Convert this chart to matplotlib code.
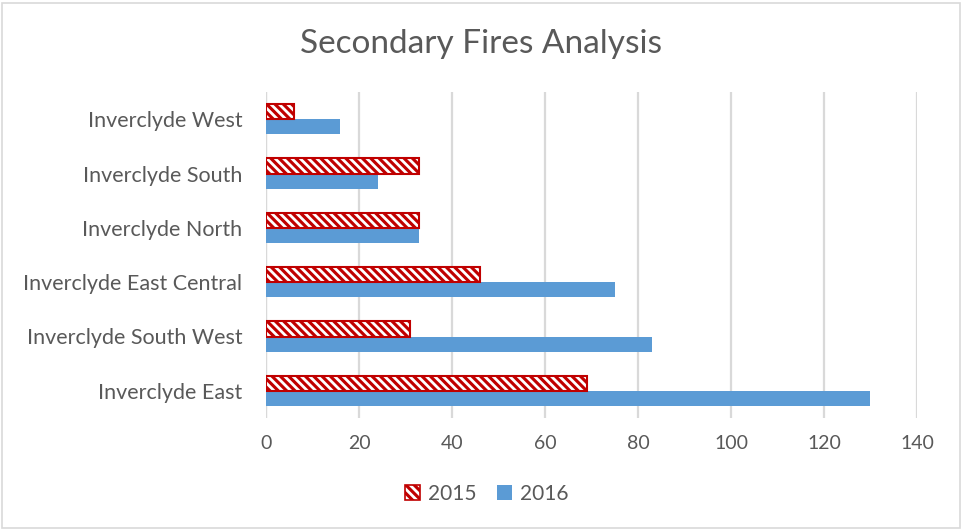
import matplotlib
matplotlib.use("Agg")
import matplotlib.pyplot as plt
import numpy as np
from matplotlib.patches import Rectangle, Patch
from matplotlib.legend_handler import HandlerPatch

categories = ["Inverclyde East", "Inverclyde South West", "Inverclyde East Central",
              "Inverclyde North", "Inverclyde South", "Inverclyde West"]
values_2015 = [69, 31, 46, 33, 33, 6]
values_2016 = [130, 83, 75, 33, 24, 16]
xticks = [0, 20, 40, 60, 80, 100, 120, 140]

plt.rcParams['font.family'] = ['Lato', 'DejaVu Sans']
plt.rcParams['hatch.linewidth'] = 2.0

red = '#C00000'
blue = '#5B9BD5'
txt = '#595959'
hatch = '\\\\\\\\'

fig = plt.figure(figsize=(9.62, 5.29), dpi=100)
ax = fig.add_axes([266/962, 1-418/529, (917-266)/962, (418-92)/529])

y = np.arange(len(categories))
h = 0.28
ax.barh(y + h/2, values_2015, height=h, color=red, edgecolor='white', hatch=hatch, linewidth=0, zorder=3)
ax.barh(y + h/2, values_2015, height=h, fill=False, edgecolor=red, linewidth=1.5, zorder=4)
ax.barh(y - h/2, values_2016, height=h, color=blue, linewidth=0, zorder=3)

ax.set_xlim(0, 140)
ax.set_ylim(-0.5, len(categories) - 0.5)
ax.set_xticks(xticks)
ax.set_yticks(y)
ax.set_yticklabels(categories)
ax.tick_params(axis='y', length=0, labelsize=15.5, colors=txt, pad=17)
ax.tick_params(axis='x', length=0, labelsize=14, colors=txt, pad=12)
ax.grid(axis='x', color='#D9D9D9', linewidth=1.6, zorder=0)
for s in ax.spines.values():
    s.set_visible(False)
ax.axvline(0, color='#D9D9D9', linewidth=1.6, zorder=1)

fig.text(0.5, 1-44/529, "Secondary Fires Analysis", ha='center', va='center', fontsize=24, color=txt)

class HatchHandler(HandlerPatch):
    def create_artists(self, legend, orig_handle, xdescent, ydescent, width, height, fontsize, trans):
        s = min(width, height)
        r1 = Rectangle((xdescent + (width - s), -ydescent), s, s, facecolor=red, edgecolor='white',
                       hatch=hatch, linewidth=0, transform=trans)
        r2 = Rectangle((xdescent + (width - s), -ydescent), s, s, fill=False, edgecolor=red,
                       linewidth=1.2, transform=trans)
        return [r1, r2]

class SquareHandler(HandlerPatch):
    def create_artists(self, legend, orig_handle, xdescent, ydescent, width, height, fontsize, trans):
        s = min(width, height)
        r = Rectangle((xdescent + (width - s), -ydescent), s, s, facecolor=blue, linewidth=0, transform=trans)
        return [r]

p1 = Patch(label='2015')
p2 = Patch(label='2016')
leg = fig.legend([p1, p2], ['2015', '2016'], loc='center', bbox_to_anchor=(487/962, 1-494/529), ncol=2,
                 frameon=False, fontsize=15, labelcolor=txt, handlelength=0.7, handleheight=0.7,
                 handletextpad=0.4, columnspacing=1.0,
                 handler_map={p1: HatchHandler(), p2: SquareHandler()})

fig.patches.append(Rectangle((0.002, 0.002), 0.996, 0.993, transform=fig.transFigure,
                             fill=False, edgecolor='#D9D9D9', linewidth=1.2))

fig.savefig("out.png", dpi=100)
